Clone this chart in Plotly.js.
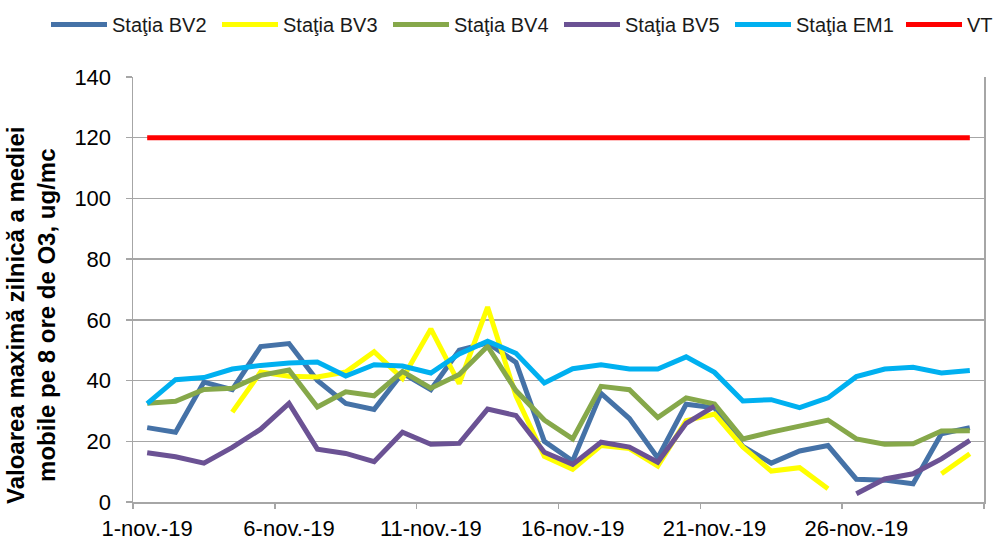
<!DOCTYPE html>
<html>
<head>
<meta charset="utf-8">
<script src="https://cdn.plot.ly/plotly-3.0.1.min.js"></script>
<style>
  html, body { margin: 0; padding: 0; background: #ffffff; }
  #chart { width: 995px; height: 540px; }
</style>
</head>
<body>
<div id="chart"></div>
<script>
// ---- data ----
const days = [1,2,3,4,5,6,7,8,9,10,11,12,13,14,15,16,17,18,19,20,21,22,23,24,25,26,27,28,29,30];
const labelDays = [1,6,11,16,21,26];
const tickLabels = ["1-nov.-19","6-nov.-19","11-nov.-19","16-nov.-19","21-nov.-19","26-nov.-19"];

const bv2 = [24.5,23,39.5,37,51.2,52.2,40,32.5,30.5,42.5,37,50,52.4,46,20,13.5,35.8,27.5,14.5,32.2,31,18.3,12.8,16.8,18.6,7.5,7.2,6,22.5,24.5];
const bv3 = [null,null,null,29.6,42.8,41.4,41.2,42.8,49.5,40.7,57,39,64.2,35,15,10.8,18.6,17.6,11.8,26.8,29,18.1,10.2,11.3,4.4,null,null,null,9.3,15.9];
const bv4 = [32.5,33.2,37.1,37.5,41.7,43.5,31.3,36.3,35,43,37.5,42,51.3,36.7,27,20.8,38.1,37,27.8,34.3,32.3,20.8,23,24.9,27,20.8,19,19.2,23.4,23.5];
const bv5 = [16.2,14.9,12.8,18,24,32.5,17.4,16,13.3,23,19,19.3,30.6,28.5,16.4,12.4,19.7,18.1,13.1,25.9,31.6,null,null,null,null,2.7,7.6,9.3,14.2,20.3];
const em1 = [32.4,40.3,41,43.8,45,45.8,46.1,41.5,45.2,44.8,42.5,48.8,53,49,39.2,43.9,45.2,43.8,43.8,47.8,42.7,33.3,33.7,31.1,34.3,41.3,43.8,44.4,42.5,43.3];
const vt  = [120,120,120,120,120,120,120,120,120,120,120,120,120,120,120,120,120,120,120,120,120,120,120,120,120,120,120,120,120,120];

const seriesNames = ["Staţia BV2","Staţia BV3","Staţia BV4","Staţia BV5","Staţia EM1","VT"];
const seriesColors = ["#4572A7","#FFFF00","#86A84A","#6B5294","#00B0F0","#FF0000"];
const seriesValues = [bv2, bv3, bv4, bv5, em1, vt];

// ---- build ----
const FONT = "Arial, 'Liberation Sans', sans-serif";
const traces = seriesValues.map((vals, i) => {
  const t = {
    type: "scatter",
    mode: "lines",
    x: days,
    y: vals,
    name: seriesNames[i],
    connectgaps: false,
    line: { color: seriesColors[i], width: 5 },
    hoverinfo: "x+y+name"
  };
  if (i < seriesValues.length - 1) {
    t.legendwidth = 100;
  } else {
    // the limit line lives on the overlay axes (same ranges) that carry the visible tick marks
    t.legendwidth = 26;
    t.xaxis = "x2";
    t.yaxis = "y2";
  }
  return t;
});

// tick marks sit between categories (0.5, 5.5, ...), labels centred on categories
const boundaryTicks = [0.5,5.5,10.5,15.5,20.5,25.5,30.5];
const GRID = "#A6A6A6";

const layout = {
  width: 995,
  height: 540,
  paper_bgcolor: "#ffffff",
  plot_bgcolor: "#ffffff",
  margin: { l: 133, r: 11, t: 77, b: 38, pad: 0, autoexpand: false },
  font: { family: FONT, color: "#000000" },
  showlegend: true,
  legend: {
    orientation: "h",
    xref: "paper",
    yref: "paper",
    x: (46 - 133) / 851,
    y: 1 + (77 - 5) / 425,
    xanchor: "left",
    yanchor: "top",
    itemwidth: 56,
    entrywidthmode: "pixels",
    font: { family: FONT, size: 20, color: "#1a1a1a" },
    bgcolor: "rgba(0,0,0,0)",
    tracegroupgap: 0
  },
  xaxis: {
    range: [0.5, 30.5],
    tickmode: "array",
    tickvals: labelDays,
    ticktext: tickLabels,
    ticks: "outside",
    ticklen: 6,
    tickcolor: "rgba(0,0,0,0)",
    showgrid: false,
    zeroline: false,
    showline: true,
    linecolor: GRID,
    linewidth: 1.5,
    tickfont: { family: FONT, size: 22, color: "#000000" },
    fixedrange: true
  },
  xaxis2: {
    overlaying: "x",
    anchor: "y",
    side: "bottom",
    range: [0.5, 30.5],
    tickmode: "array",
    tickvals: boundaryTicks,
    showticklabels: false,
    ticks: "outside",
    ticklen: 6,
    tickwidth: 1.5,
    tickcolor: GRID,
    showgrid: false,
    zeroline: false,
    showline: false,
    fixedrange: true
  },
  yaxis: {
    range: [0, 140],
    tickmode: "linear",
    tick0: 0,
    dtick: 20,
    ticks: "outside",
    ticklen: 16,
    tickcolor: "rgba(0,0,0,0)",
    showgrid: true,
    gridcolor: GRID,
    gridwidth: 1.5,
    zeroline: false,
    showline: true,
    mirror: true,
    linecolor: GRID,
    linewidth: 1.5,
    tickfont: { family: FONT, size: 22, color: "#000000" },
    fixedrange: true
  },
  yaxis2: {
    overlaying: "y",
    anchor: "x",
    side: "left",
    range: [0, 140],
    tickmode: "linear",
    tick0: 0,
    dtick: 20,
    showticklabels: false,
    ticks: "outside",
    ticklen: 6,
    tickwidth: 1.5,
    tickcolor: GRID,
    showgrid: false,
    zeroline: false,
    showline: false,
    fixedrange: true
  },
  annotations: [{
    xref: "paper",
    yref: "paper",
    x: (31 - 133) / 851,
    y: (502 - 315) / 425,
    xanchor: "center",
    yanchor: "middle",
    textangle: -90,
    showarrow: false,
    align: "center",
    text: "<b>Valoarea maximă zilnică a mediei</b><br><b>mobile pe 8 ore de O3, ug/mc</b>",
    font: { family: FONT, size: 24, color: "#000000" }
  }]
};

Plotly.newPlot("chart", traces, layout, { displayModeBar: false, staticPlot: true });
</script>
</body>
</html>
